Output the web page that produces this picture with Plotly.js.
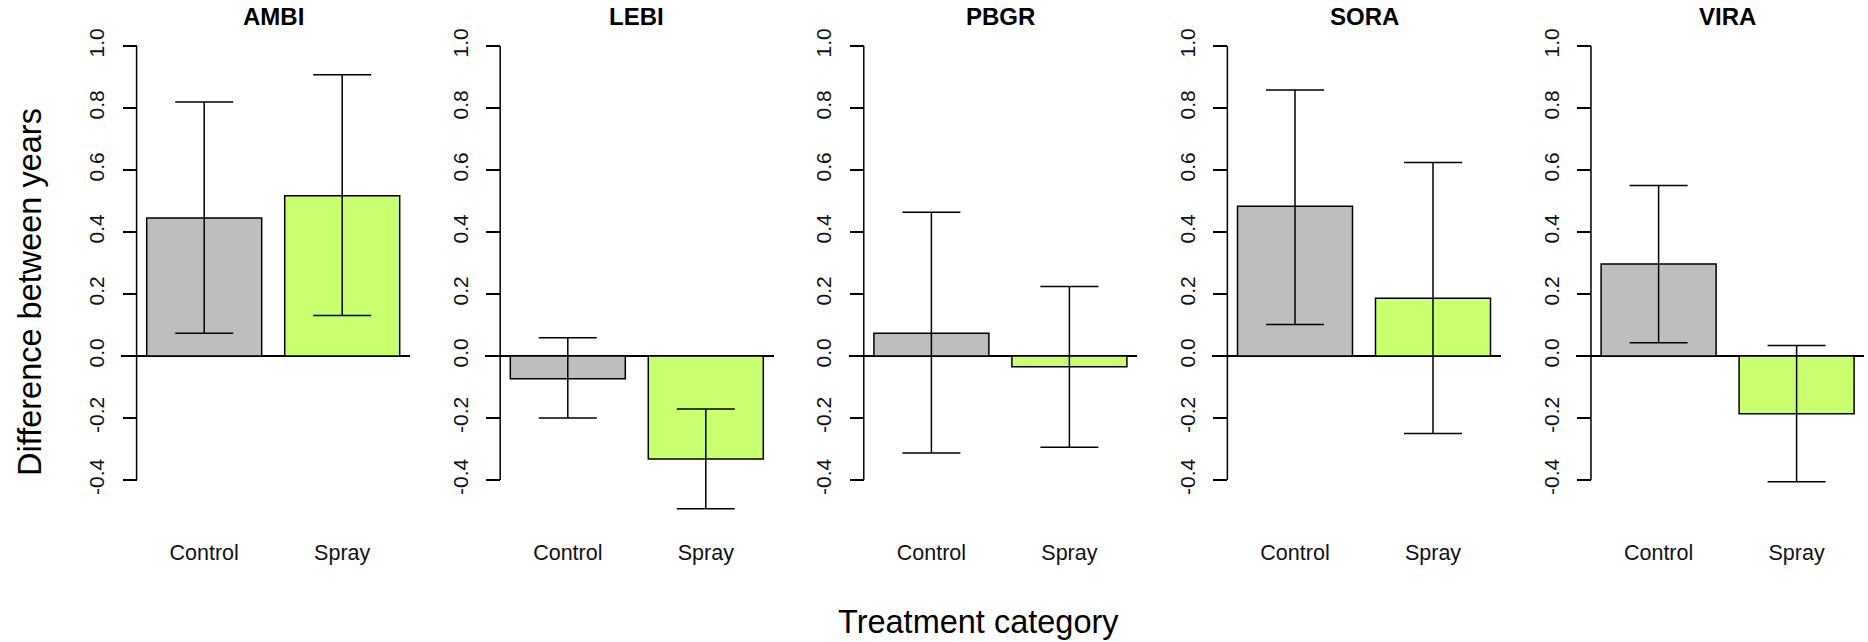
<!DOCTYPE html>
<html><head><meta charset="utf-8">
<script src="https://cdn.plot.ly/plotly-3.0.1.min.js"></script>
<style>html,body{margin:0;padding:0;background:#fff}#chart{width:1868px;height:642px}</style>
</head><body><div id="chart"></div>
<script>
// ---- data ----
const species = ["AMBI", "LEBI", "PBGR", "SORA", "VIRA"];
const treatments = ["Control", "Spray"];
const controlMean  = [0.445, -0.073, 0.073, 0.483, 0.297];
const controlLower = [0.073, -0.200, -0.313, 0.102, 0.043];
const controlUpper = [0.819, 0.059, 0.464, 0.858, 0.550];
const sprayMean    = [0.517, -0.332, -0.035, 0.186, -0.186];
const sprayLower   = [0.131, -0.493, -0.294, -0.250, -0.406];
const sprayUpper   = [0.907, -0.171, 0.224, 0.624, 0.034];
const yTickVals = [-0.4, -0.2, 0.0, 0.2, 0.4, 0.6, 0.8, 1.0];
const yTickText = ["-0.4", "-0.2", "0.0", "0.2", "0.4", "0.6", "0.8", "1.0"];
const barPositions = [0.7, 1.9];
const barColors = ["#BEBEBE", "#CAFF70"];

// ---- layout constants (pixels) ----
const W = 1868, H = 642;
const FONT = '"Liberation Sans", Arial, sans-serif';
const STEP = 363.6, BAR0 = 146.7, PXU = 115;
const XR = [-0.02, 2.49];
const AXIS_X = 0.112;
const YR = [-0.56, 1.06];
const Y0PX = 356, PXV = 310;
const yTopPx = Y0PX - YR[1] * PXV, yBotPx = Y0PX - YR[0] * PXV;
const yDomain = [(H - yBotPx) / H, (H - yTopPx) / H];

const data = [];
const layout = {
  width: W, height: H,
  margin: {l: 0, r: 0, t: 0, b: 0},
  paper_bgcolor: "#fff", plot_bgcolor: "rgba(0,0,0,0)",
  showlegend: false,
  font: {family: FONT, color: "#000"},
  bargap: 0,
  shapes: [], annotations: []
};

species.forEach((sp, i) => {
  const n = i === 0 ? "" : String(i + 1);
  const means = [controlMean[i], sprayMean[i]];
  const lows = [controlLower[i], sprayLower[i]];
  const highs = [controlUpper[i], sprayUpper[i]];
  data.push({
    type: "bar", x: barPositions, y: means, width: [1, 1],
    xaxis: "x" + n, yaxis: "y" + n,
    marker: {color: barColors, line: {color: "#000", width: 1.5}},
    error_y: {
      type: "data", symmetric: false,
      array: highs.map((h, k) => h - means[k]),
      arrayminus: lows.map((l, k) => means[k] - l),
      color: "#000", thickness: 1.5, width: 29
    },
    hoverinfo: "skip"
  });
  const user0 = BAR0 + STEP * i - 0.2 * PXU;
  const domL = user0 + XR[0] * PXU, domR = user0 + XR[1] * PXU;
  const axisPx = user0 + AXIS_X * PXU;
  layout["xaxis" + n] = {
    domain: [domL / W, domR / W], range: XR, anchor: "y" + n,
    showline: false, showgrid: false, zeroline: false,
    tickmode: "array", tickvals: barPositions, ticktext: treatments,
    ticks: "outside", ticklen: 4, tickcolor: "rgba(0,0,0,0)",
    tickfont: {size: 21.5, family: FONT, color: "#111"}, fixedrange: true
  };
  layout["yaxis" + n] = {
    domain: yDomain, range: YR, anchor: "free", position: axisPx / W,
    showline: false, showgrid: false,
    zeroline: true, zerolinecolor: "#000", zerolinewidth: 1.5,
    tickmode: "array", tickvals: yTickVals, ticktext: yTickText,
    ticks: "outside", ticklen: 14, tickwidth: 1.5, tickcolor: "#000",
    tickangle: -90, ticklabelstandoff: 10,
    tickfont: {size: 21, family: FONT, color: "#111"}, fixedrange: true
  };
  layout.shapes.push({
    type: "line", xref: "x" + n, yref: "y" + n,
    x0: AXIS_X, x1: AXIS_X, y0: yTickVals[0], y1: yTickVals[yTickVals.length - 1],
    line: {color: "#000", width: 1.5}
  });
  layout.annotations.push({
    text: "<b>" + sp + "</b>", xref: "x" + n, yref: "paper",
    x: (AXIS_X + XR[1]) / 2, y: (H - 17) / H, xanchor: "center", yanchor: "middle",
    showarrow: false, font: {size: 24, family: FONT, color: "#000"}
  });
});

layout.annotations.push({
  text: "Treatment category", xref: "paper", yref: "paper",
  x: 979 / W, y: (H - 622) / H, xanchor: "center", yanchor: "middle",
  showarrow: false, font: {size: 32.5, family: FONT, color: "#000"}
});
layout.annotations.push({
  text: "Difference between years", xref: "paper", yref: "paper",
  x: 30 / W, y: (H - 292) / H, xanchor: "center", yanchor: "middle", textangle: -90,
  showarrow: false, font: {size: 32.5, family: FONT, color: "#000"}
});

Plotly.newPlot("chart", data, layout, {staticPlot: true, displayModeBar: false});
</script>
</body></html>
